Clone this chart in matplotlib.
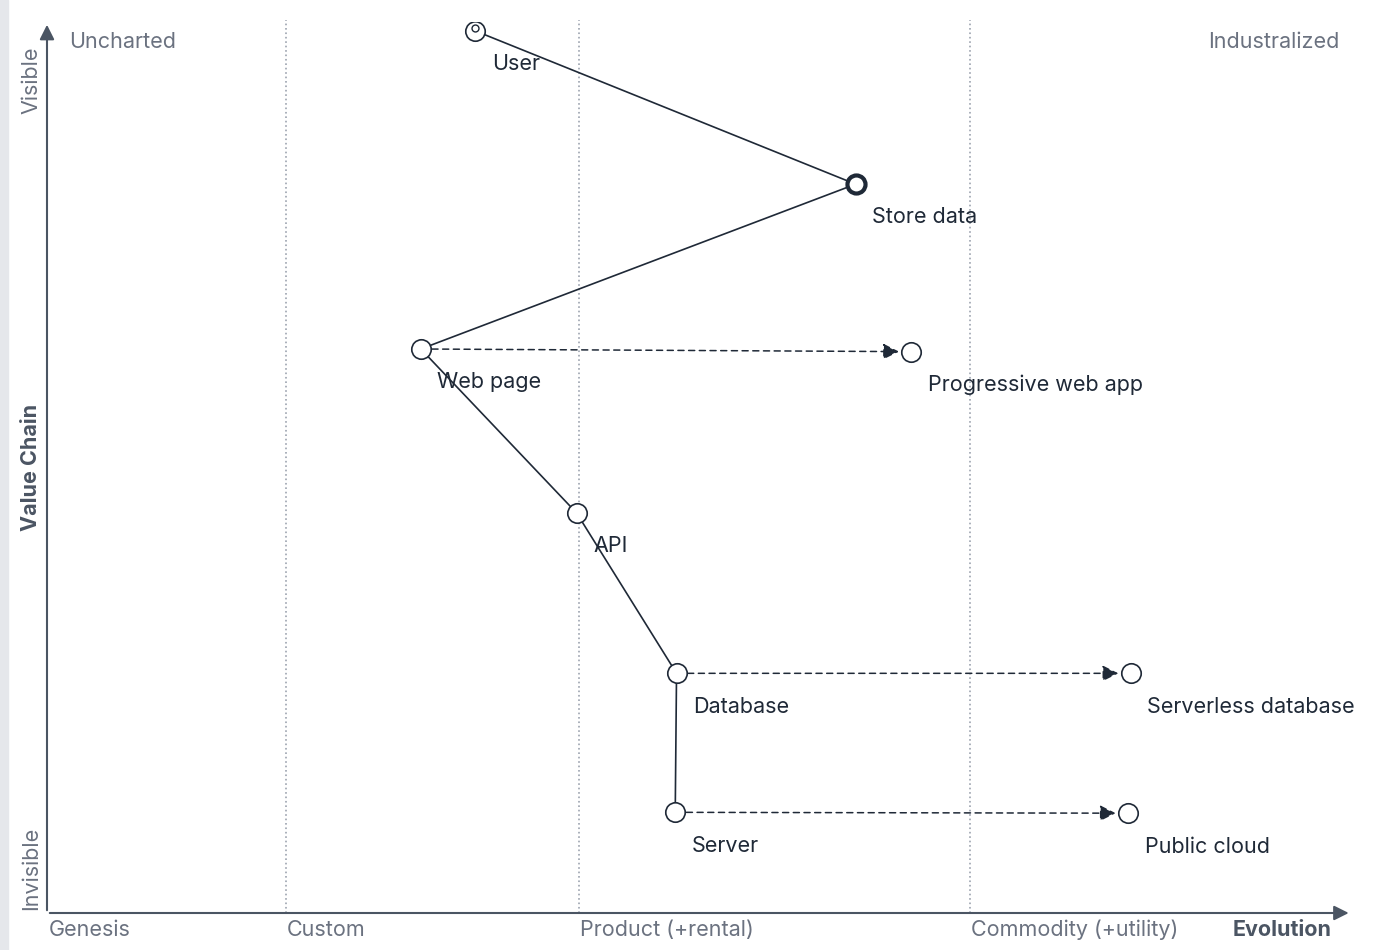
import matplotlib.pyplot as plt
from matplotlib.patches import Rectangle

plt.rcParams['font.family'] = ['Inter', 'DejaVu Sans']

# components: name, evolution, visibility
names = ['User', 'Store data', 'Web page', 'Progressive web app', 'API',
         'Database', 'Serverless database', 'Server', 'Public cloud']
evolution = [0.330, 0.623, 0.288, 0.666, 0.408, 0.485, 0.835, 0.484, 0.833]
visibility = [0.990, 0.818, 0.633, 0.630, 0.449, 0.269, 0.269, 0.113, 0.112]
links = [('User', 'Store data'), ('Store data', 'Web page'), ('Web page', 'API'),
         ('API', 'Database'), ('Database', 'Server')]
evolves = [('Web page', 'Progressive web app'), ('Database', 'Serverless database'),
           ('Server', 'Public cloud')]
stages = ['Genesis', 'Custom', 'Product (+rental)', 'Commodity (+utility)']
stage_x = [0.0, 0.184, 0.41, 0.711]

ink = '#1f2937'
grey = '#6b7280'
fs = 15.5
pos = {n: (e, v) for n, e, v in zip(names, evolution, visibility)}

fig = plt.figure(figsize=(13.9, 9.5), dpi=100)
fig.patches.append(Rectangle((0, 0), 8 / 1390, 1, transform=fig.transFigure,
                             color='#e5e7eb', zorder=0))
ax = fig.add_axes([47 / 1390, 37 / 950, 1298 / 1390, 891 / 950])
ax.set_xlim(0, 1)
ax.set_ylim(0, 1)
ax.axis('off')

# axes arrows
ax.annotate('', xy=(0, 1.0), xytext=(0, 0), annotation_clip=False,
            arrowprops=dict(arrowstyle='-|>', color='#4b5563', lw=1.5, mutation_scale=22))
ax.annotate('', xy=(1.005, 0), xytext=(0, 0), annotation_clip=False,
            arrowprops=dict(arrowstyle='-|>', color='#4b5563', lw=1.5, mutation_scale=22))

for sx in stage_x[1:]:
    ax.axvline(sx, ymin=0, ymax=1.002, color='#9ca3af', ls=':', lw=1.2, clip_on=False)
for s, sx in zip(stages, stage_x):
    ax.text(sx + 0.001, -0.019, s, color=grey, fontsize=fs, va='center', ha='left')
ax.text(0.99, -0.019, 'Evolution', color='#4b5563', fontsize=fs, fontweight='bold',
        va='center', ha='right')
ax.text(0.017, 0.977, 'Uncharted', color=grey, fontsize=fs, va='center')
ax.text(0.996, 0.977, 'Industralized', color=grey, fontsize=fs, va='center', ha='right')
ax.text(-0.012, 0.935, 'Visible', color=grey, fontsize=fs, rotation=90, ha='center', va='center')
ax.text(-0.012, 0.05, 'Invisible', color=grey, fontsize=fs, rotation=90, ha='center', va='center')
ax.text(-0.012, 0.5, 'Value Chain', color='#4b5563', fontsize=fs, fontweight='bold',
        rotation=90, ha='center', va='center')

for a, b in links:
    ax.plot([pos[a][0], pos[b][0]], [pos[a][1], pos[b][1]], color=ink, lw=1.2, zorder=2)
for a, b in evolves:
    ax.annotate('', xy=pos[b], xytext=pos[a],
                arrowprops=dict(arrowstyle='-|>', color=ink, lw=1.1, ls=(0, (4, 3)),
                                shrinkA=8, shrinkB=9, mutation_scale=24), zorder=2)

for n in names:
    x, y = pos[n]
    if n == 'Store data':
        ax.plot(x, y, 'o', ms=13, mfc='white', mec=ink, mew=3, zorder=3)
    elif n == 'User':
        ax.plot(x, y, 'o', ms=14, mfc='white', mec=ink, mew=1.2, zorder=3)
        ax.plot(x, y + 0.003, 'o', ms=5, mfc='white', mec=ink, mew=1, zorder=4)
    else:
        ax.plot(x, y, 'o', ms=14, mfc='white', mec=ink, mew=1.2, zorder=3)
    ax.annotate(n, (x, y), xytext=(12, -24), textcoords='offset points',
                fontsize=fs, color=ink, va='center', ha='left', zorder=5)

fig.savefig('out.png', dpi=100, facecolor='white')
